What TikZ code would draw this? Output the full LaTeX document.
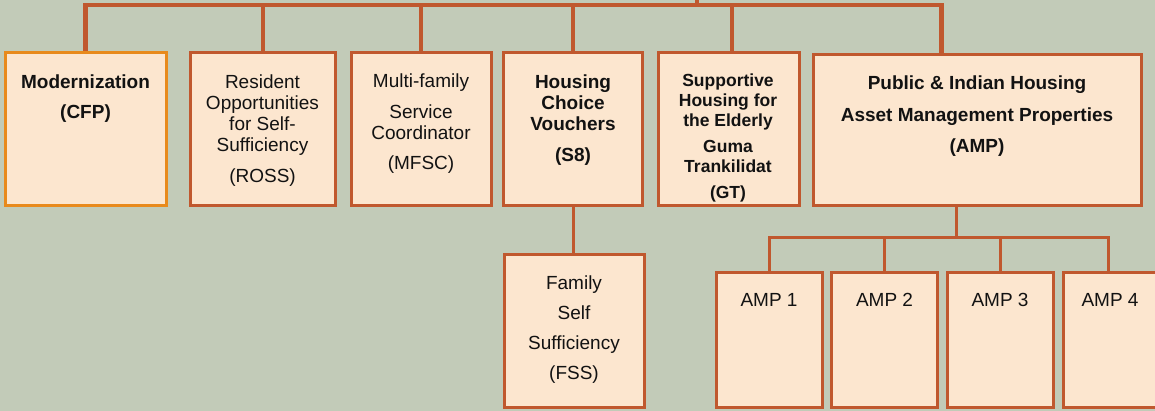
\documentclass[tikz,border=0pt]{standalone}
\usepackage{fontspec}
\setmainfont{Liberation Sans}
\definecolor{rust}{HTML}{C0582E}
\definecolor{peach}{HTML}{FCE6CF}
\definecolor{bgc}{HTML}{C2CBB8}
\definecolor{orng}{HTML}{E88A1C}
\definecolor{ink}{HTML}{121212}
\pgfdeclarelayer{bglayer}
\pgfdeclarelayer{lines}
\pgfsetlayers{bglayer,lines,main}
\begin{document}
\begin{tikzpicture}[x=1pt,y=-1pt,
  box/.style={rectangle, draw=rust, fill=peach, line width=3pt, inner sep=0pt, minimum height=153pt},
  modbox/.style={box, draw=orng},
  ampbox/.style={box, minimum width=106pt, minimum height=134pt},
  txt/.style={anchor=north, align=center, inner sep=0pt, text=ink},
  reg/.style={txt, font=\fontsize{19}{21}\selectfont},
  bld/.style={txt, font=\bfseries\fontsize{19}{21}\selectfont},
  topbar/.style={draw=rust, line width=4.5pt, line join=miter},
  stem/.style={draw=rust, line width=4pt},
  conn/.style={draw=rust, line width=3pt, line join=miter}]
\useasboundingbox (0,0) rectangle (1155,411);
\clip (0,0) rectangle (1155,411);
\begin{pgfonlayer}{bglayer}
  \fill[bgc] (0,0) rectangle (1155,411);
\end{pgfonlayer}

% top row boxes
\node[modbox, minimum width=161pt] (mod)  at (85.5,129.5) {};
\node[box, minimum width=145pt]    (ross) at (262.5,129.5) {};
\node[box, minimum width=140pt]    (mfsc) at (421,129.5) {};
\node[box, minimum width=139pt]    (hcv)  at (573,129.5) {};
\node[box, minimum width=141pt]    (she)  at (729,129.5) {};
\node[box, minimum width=328pt, minimum height=151pt] (amp) at (977,130.5) {};
% lower boxes
\node[box, minimum width=140pt, minimum height=152pt] (fss) at (574,331) {};
\node[ampbox] (amp1) at (769,340) {};
\node[ampbox] (amp2) at (884.5,340) {};
\node[ampbox] (amp3) at (1000,340) {};
\node[ampbox] (amp4) at (1116,340) {};

% texts
\node[bld, font=\bfseries\fontsize{19}{30}\selectfont] (modt) at (85.5,75) {Modernization\\(CFP)};
\node[reg] (rosst) at (262.5,75) {Resident\\Opportunities\\for Self-\\Sufficiency\\[10pt](ROSS)};
\node[reg] (mfsct) at (421,74) {Multi-family\\[10pt]Service\\Coordinator\\[9pt](MFSC)};
\node[bld] (hcvt) at (573,75) {Housing\\Choice\\Vouchers\\[10pt](S8)};
\node[txt, font=\bfseries\fontsize{17.5}{20}\selectfont] (shet) at (728,73.5) {Supportive\\Housing for\\the Elderly\\[6pt]Guma\\Trankilidat\\[6pt](GT)};
\node[txt, font=\bfseries\fontsize{19}{31.5}\selectfont] (ampt) at (977,76) {Public \& Indian Housing\\Asset Management Properties\\(AMP)};
\node[txt, font=\fontsize{19}{30}\selectfont] (fsst) at (574,276) {Family\\Self\\Sufficiency\\(FSS)};
\node[reg] (amp1t) at (769,293) {AMP 1};
\node[reg] (amp2t) at (884.5,293) {AMP 2};
\node[reg] (amp3t) at (1000,293) {AMP 3};
\node[reg] (amp4t) at (1110,293) {AMP 4};

% connectors
\coordinate (root) at (697,0);
\coordinate (barL) at (85,5);
\coordinate (hb) at (768,238);
\begin{pgfonlayer}{lines}
  \draw[topbar] ([yshift=-2pt]mod.north) -- (mod.north |- barL) -- ([xshift=130pt]amp.north west |- barL) -- ([xshift=130pt]amp.north west);
  \draw[stem] (root) -- (root |- barL);
  \draw[stem] (ross.north) -- (ross.north |- barL);
  \draw[stem] (mfsc.north) -- (mfsc.north |- barL);
  \draw[stem] (hcv.north) -- (hcv.north |- barL);
  \draw[stem] ([xshift=75pt]she.north west) -- ([xshift=75pt]she.north west |- barL);
  \draw[conn] (hcv.south) -- (hcv.south |- fss.north);
  \draw[conn] ([xshift=145pt]amp.south west) -- ([xshift=145pt]amp.south west |- hb);
  \draw[conn] (amp1.north) -- (amp1.north |- hb) -- ([xshift=47pt]amp4.north west |- hb) -- ([xshift=47pt]amp4.north west);
  \draw[conn] (amp2.north) -- (amp2.north |- hb);
  \draw[conn] (amp3.north) -- (amp3.north |- hb);
\end{pgfonlayer}
\end{tikzpicture}
\end{document}
